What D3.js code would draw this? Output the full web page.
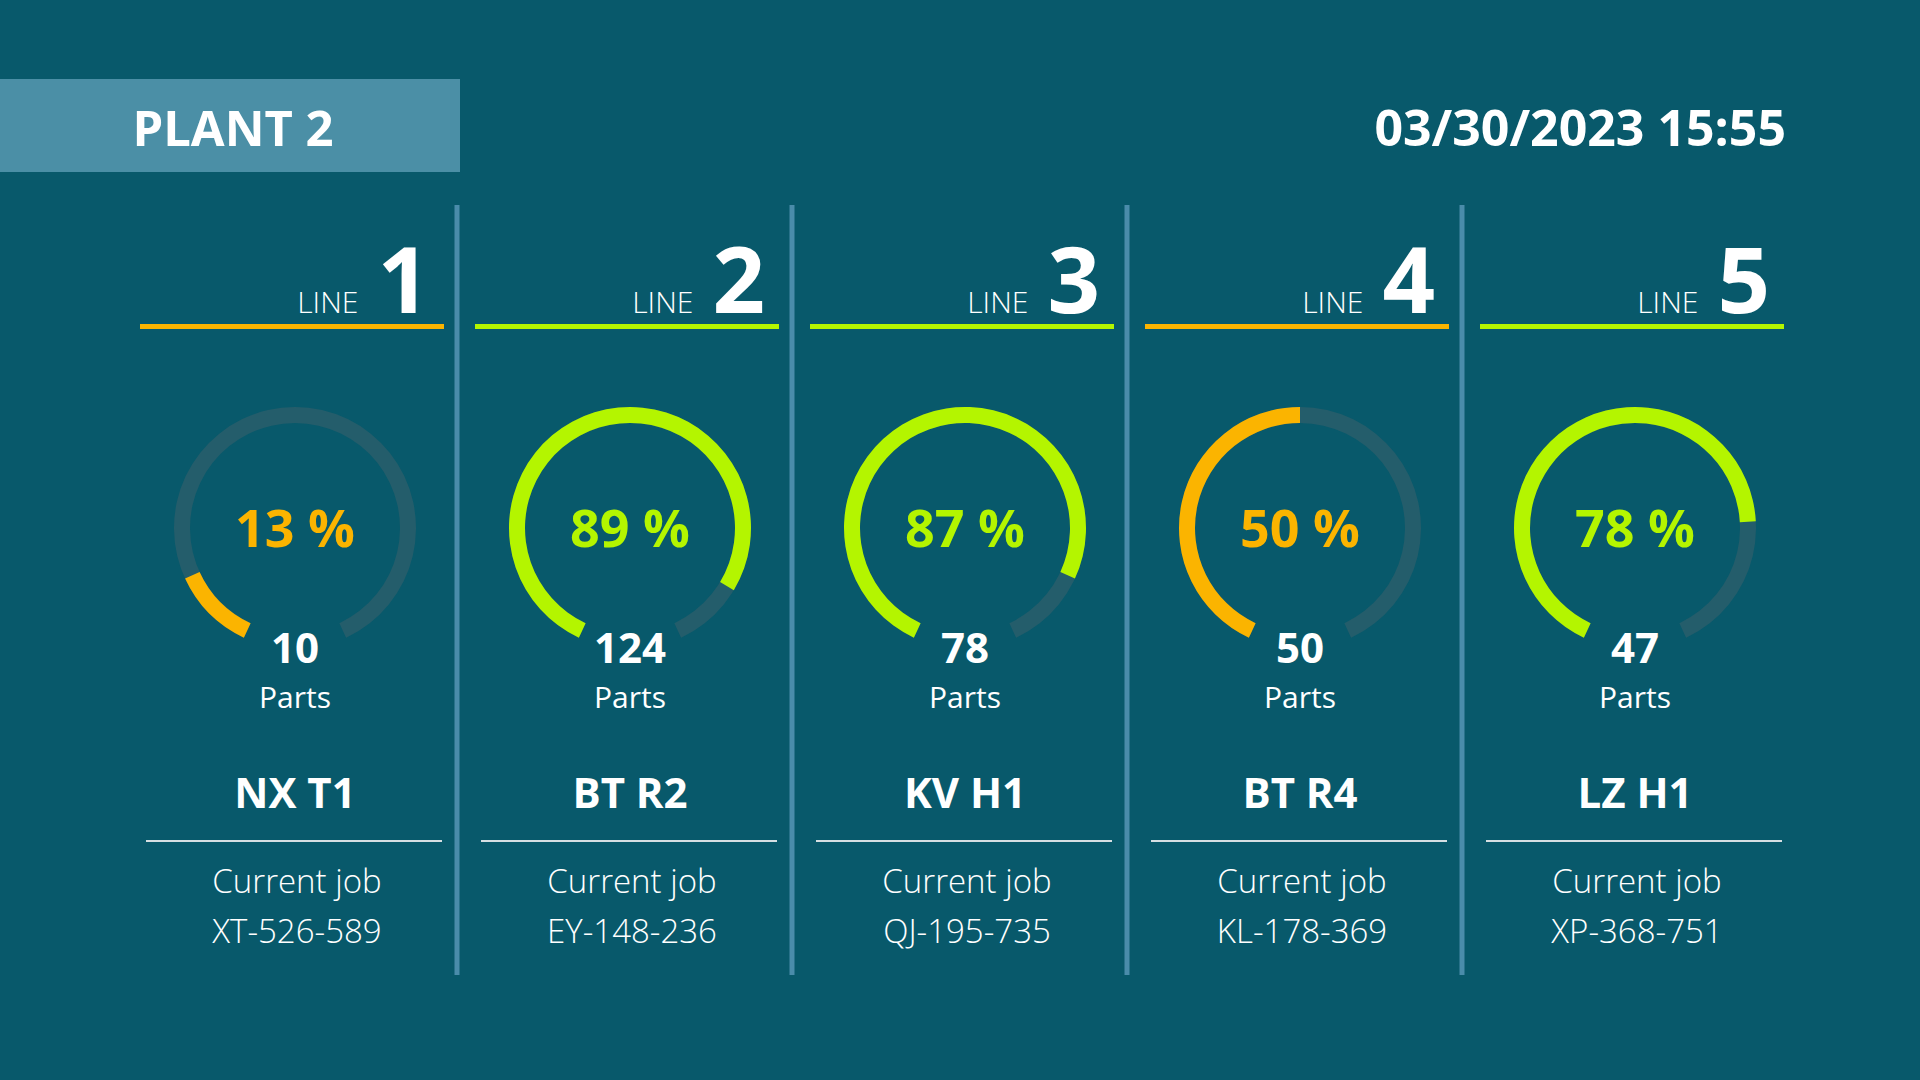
<!DOCTYPE html>
<html>
<head>
<meta charset="utf-8">
<script src="https://cdn.jsdelivr.net/npm/d3@7"></script>
<style>
  html, body { margin: 0; padding: 0; background: #08596b; overflow: hidden; }
  svg { display: block; font-family: "Open Sans", "Noto Sans", sans-serif; }
</style>
</head>
<body>
<div id="board"></div>
<script>
// board data
const plantName = "PLANT 2";
const timestamp = "03/30/2023 15:55";
const lineNumbers = [1, 2, 3, 4, 5];
const efficiency = [13, 89, 87, 50, 78];      // percent
const partCounts = [10, 124, 78, 50, 47];
const machines = ["NX T1", "BT R2", "KV H1", "BT R4", "LZ H1"];
const jobIds = ["XT-526-589", "EY-148-236", "QJ-195-735", "KL-178-369", "XP-368-751"];
const target = 75; // below this the line is shown in orange

const width = 1920, height = 1080;
const colors = {bg: "#08596b", box: "#4b8fa6", sep: "#4a8caa", track: "#245d6b",
                ok: "#b4f500", warn: "#fbb400", text: "#ffffff", rule: "#d6dfe3"};

const lines = lineNumbers.map((n, i) => ({
    line: n, pct: efficiency[i], parts: partCounts[i], machine: machines[i], job: jobIds[i]
}));

const svg = d3.select("#board").append("svg")
    .attr("width", width)
    .attr("height", height);

svg.append("rect")
    .attr("width", width)
    .attr("height", height)
    .attr("fill", colors.bg);

// title bar
svg.append("rect")
    .attr("x", 0).attr("y", 79)
    .attr("width", 460).attr("height", 93)
    .attr("fill", colors.box);

svg.append("text")
    .attr("x", 233).attr("y", 146)
    .attr("text-anchor", "middle")
    .attr("font-size", 49).attr("font-weight", 700)
    .attr("fill", colors.text)
    .text(plantName);

svg.append("text")
    .attr("x", 1786).attr("y", 146)
    .attr("text-anchor", "end")
    .attr("font-size", 50).attr("font-weight", 700)
    .attr("fill", colors.text)
    .text(timestamp);

// columns
const x = d3.scalePoint()
    .domain(lineNumbers)
    .range([295, 1635]);

const colorOf = d => d.pct < target ? colors.warn : colors.ok;

// separators between columns
svg.selectAll(".sep")
    .data(lineNumbers.slice(1))
    .join("rect")
    .attr("class", "sep")
    .attr("x", d => (x(d - 1) + x(d)) / 2 - 8)
    .attr("y", 205)
    .attr("width", 5)
    .attr("height", 770)
    .attr("fill", colors.sep);

const col = svg.selectAll(".col")
    .data(lines)
    .join("g")
    .attr("class", "col")
    .attr("transform", d => `translate(${x(d.line)},0)`);

// header: LINE n + coloured rule
const head = col.append("text")
    .attr("x", 135).attr("y", 313)
    .attr("text-anchor", "end")
    .attr("fill", colors.text);
head.append("tspan")
    .attr("font-size", 30).attr("font-weight", 300)
    .text("LINE");
head.append("tspan")
    .attr("dx", 19)
    .attr("font-size", 92).attr("font-weight", 700)
    .text(d => d.line);

col.append("rect")
    .attr("x", -155).attr("y", 324)
    .attr("width", 304).attr("height", 5)
    .attr("fill", colorOf);

// gauges
const angle = d3.scaleLinear()
    .domain([0, 100])
    .range([-155 * Math.PI / 180, 155 * Math.PI / 180]);

const arc = d3.arc()
    .innerRadius(105)
    .outerRadius(121);

const gauge = col.append("g")
    .attr("transform", "translate(0,528)");

gauge.append("path")
    .attr("fill", colors.track)
    .attr("d", arc({startAngle: angle(0), endAngle: angle(100)}));

gauge.append("path")
    .attr("fill", colorOf)
    .attr("d", d => arc({startAngle: angle(0), endAngle: angle(d.pct)}));

gauge.append("text")
    .attr("y", 19)
    .attr("text-anchor", "middle")
    .attr("font-size", 52).attr("font-weight", 700)
    .attr("fill", colorOf)
    .text(d => `${d.pct} %`);

col.append("text")
    .attr("y", 663)
    .attr("text-anchor", "middle")
    .attr("font-size", 42).attr("font-weight", 700)
    .attr("fill", colors.text)
    .text(d => d.parts);

col.append("text")
    .attr("y", 708)
    .attr("text-anchor", "middle")
    .attr("font-size", 30)
    .attr("fill", colors.text)
    .text("Parts");

// machine + job
col.append("text")
    .attr("y", 808)
    .attr("text-anchor", "middle")
    .attr("font-size", 42).attr("font-weight", 700)
    .attr("fill", colors.text)
    .text(d => d.machine);

col.append("rect")
    .attr("x", -149).attr("y", 840)
    .attr("width", 296).attr("height", 2)
    .attr("fill", colors.rule);

col.append("text")
    .attr("x", 2).attr("y", 893)
    .attr("text-anchor", "middle")
    .attr("font-size", 33).attr("font-weight", 350)
    .attr("fill", colors.text)
    .text("Current job");

col.append("text")
    .attr("x", 2).attr("y", 943)
    .attr("text-anchor", "middle")
    .attr("font-size", 33).attr("font-weight", 350)
    .attr("fill", colors.text)
    .text(d => d.job);
</script>
</body>
</html>
